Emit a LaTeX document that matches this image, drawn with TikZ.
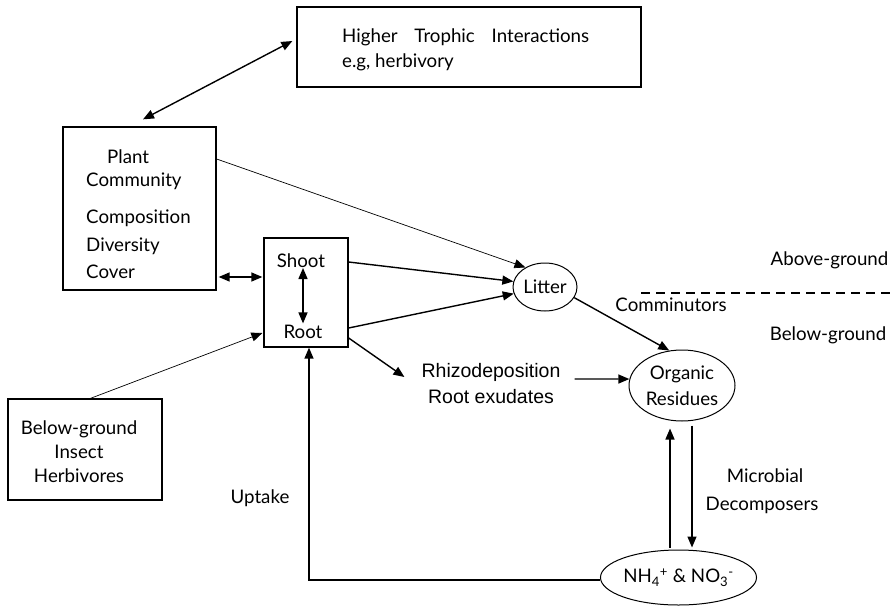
\documentclass[tikz,border=0pt]{standalone}
\usepackage{fontspec}
\setmainfont{Lato}
\newfontfamily\arialfont{Liberation Sans}
\usetikzlibrary{arrows.meta,shapes.geometric,calc}
\begin{document}
\begin{tikzpicture}[x=1pt,y=-1pt,
  box/.style={draw,line width=1.3pt,inner sep=0pt},
  oval/.style={draw,ellipse,line width=1pt,inner sep=0pt,align=center,font=\fontsize{18.7}{26}\selectfont},
  lbl/.style={inner sep=0pt,font=\fontsize{18.7}{24}\selectfont},
  tip/.tip={Triangle[length=11pt,width=9pt]},
  con/.style={line width=1.4pt,-tip},
  dcon/.style={line width=1.4pt,tip-tip},
  thin/.style={line width=0.7pt,-tip}]
\useasboundingbox (0,0) rectangle (894,605);

% boxes
\node[box,minimum width=344pt,minimum height=80pt] (higher) at (469,47) {};
\node[lbl,anchor=west,align=left,font=\fontsize{18.7}{25}\selectfont] (htext) at (342,50) {Higher\hspace{0.9em}Trophic\hspace{0.9em}Interactions\\e.g, herbivory};

\node[box,minimum width=153pt,minimum height=163pt] (plant) at (139.5,208.5) {};
\node[lbl,anchor=base west] (tPlant) at (107,163) {Plant};
\node[lbl,anchor=base west] (tCommunity) at (86,186) {Community};
\node[lbl,anchor=base west] (tComposition) at (86,223) {Composition};
\node[lbl,anchor=base west] (tDiversity) at (86,251) {Diversity};
\node[lbl,anchor=base west] (tCover) at (86,278) {Cover};

\node[box,minimum width=84pt,minimum height=109pt] (sr) at (306,292.5) {};
\node[lbl,anchor=base] (tShoot) at (301,267) {Shoot};
\node[lbl,anchor=base] (tRoot) at (303,338) {Root};

\node[box,minimum width=154pt,minimum height=101pt] (insect) at (85,449.5) {};
\node[lbl,align=center] (tInsect) at (79,452) {Below-ground\\Insect\\Herbivores};

% ellipses
\node[oval,minimum width=64pt,minimum height=48pt] (litter) at (545,287) {Litter};
\node[oval,minimum width=106pt,minimum height=71pt] (org) at (682,385.5) {Organic\\Residues};
\node[oval,minimum width=147pt,minimum height=55pt] (nh) at (678.5,577.5) {NH\textsubscript{4}\textsuperscript{+} \& NO\textsubscript{3}\textsuperscript{-}};

% free labels
\node[inner sep=0pt,align=center,font=\arialfont\fontsize{19.5}{26}\selectfont] (rhizo) at (491,384) {Rhizodeposition\\Root exudates};
\node[lbl,anchor=base] (tComm) at (671,311) {Comminutors};
\node[lbl,anchor=base] (tAbove) at (829.5,265) {Above-ground};
\node[lbl,anchor=base] (tBelow) at (828,340) {Below-ground};
\node[lbl,anchor=base] (tMicro) at (765,482) {Microbial};
\node[lbl,anchor=base] (tDecomp) at (762,510) {Decomposers};
\node[lbl,anchor=base] (tUptake) at (260,503) {Uptake};

% dashed ground line
\coordinate (dA) at (641,293);
\coordinate (dB) at (894,293);
\draw[line width=1.5pt,dash pattern=on 9pt off 6pt] (dA) -- (dB);

% connectors
\draw[dcon] ([xshift=3.5pt,yshift=7pt]plant.north) -- ([xshift=-4pt,yshift=6pt]higher.west);
\draw[dcon] ([xshift=2pt,yshift=-68.5pt]plant.east) -- ([xshift=-1pt,yshift=15.5pt]sr.west);
\draw[dcon] (tRoot.north |- 0,268) -- ([yshift=1pt]tRoot.north);
\draw[thin] ([yshift=49.5pt]plant.east) -- (litter.135);
\draw[con] ([yshift=30.5pt]sr.east) -- (litter.170);
\draw[con] ([yshift=-35.5pt]sr.east) -- (litter.192);
\draw[con] (litter.-20) -- (org.110);
\draw[con] ([yshift=-45.5pt]sr.east) -- ([xshift=-17pt,yshift=7pt]rhizo.west);
\draw[con] ([xshift=14pt,yshift=5pt]rhizo.east) -- (org.173);
\draw[con] ([xshift=-8.5pt,yshift=2pt]nh.north) -- ([xshift=-12pt,yshift=-7pt]org.south);
\draw[con] ([xshift=10pt,yshift=-4pt]org.south) -- ([xshift=13.5pt,yshift=2pt]nh.north);
\draw[con] ([yshift=-2.5pt]nh.west) -| ([xshift=3pt]sr.south);
\draw[thin] ([xshift=5.5pt]insect.north) -- ([xshift=-1pt,yshift=-40.5pt]sr.west);
\end{tikzpicture}
\end{document}
